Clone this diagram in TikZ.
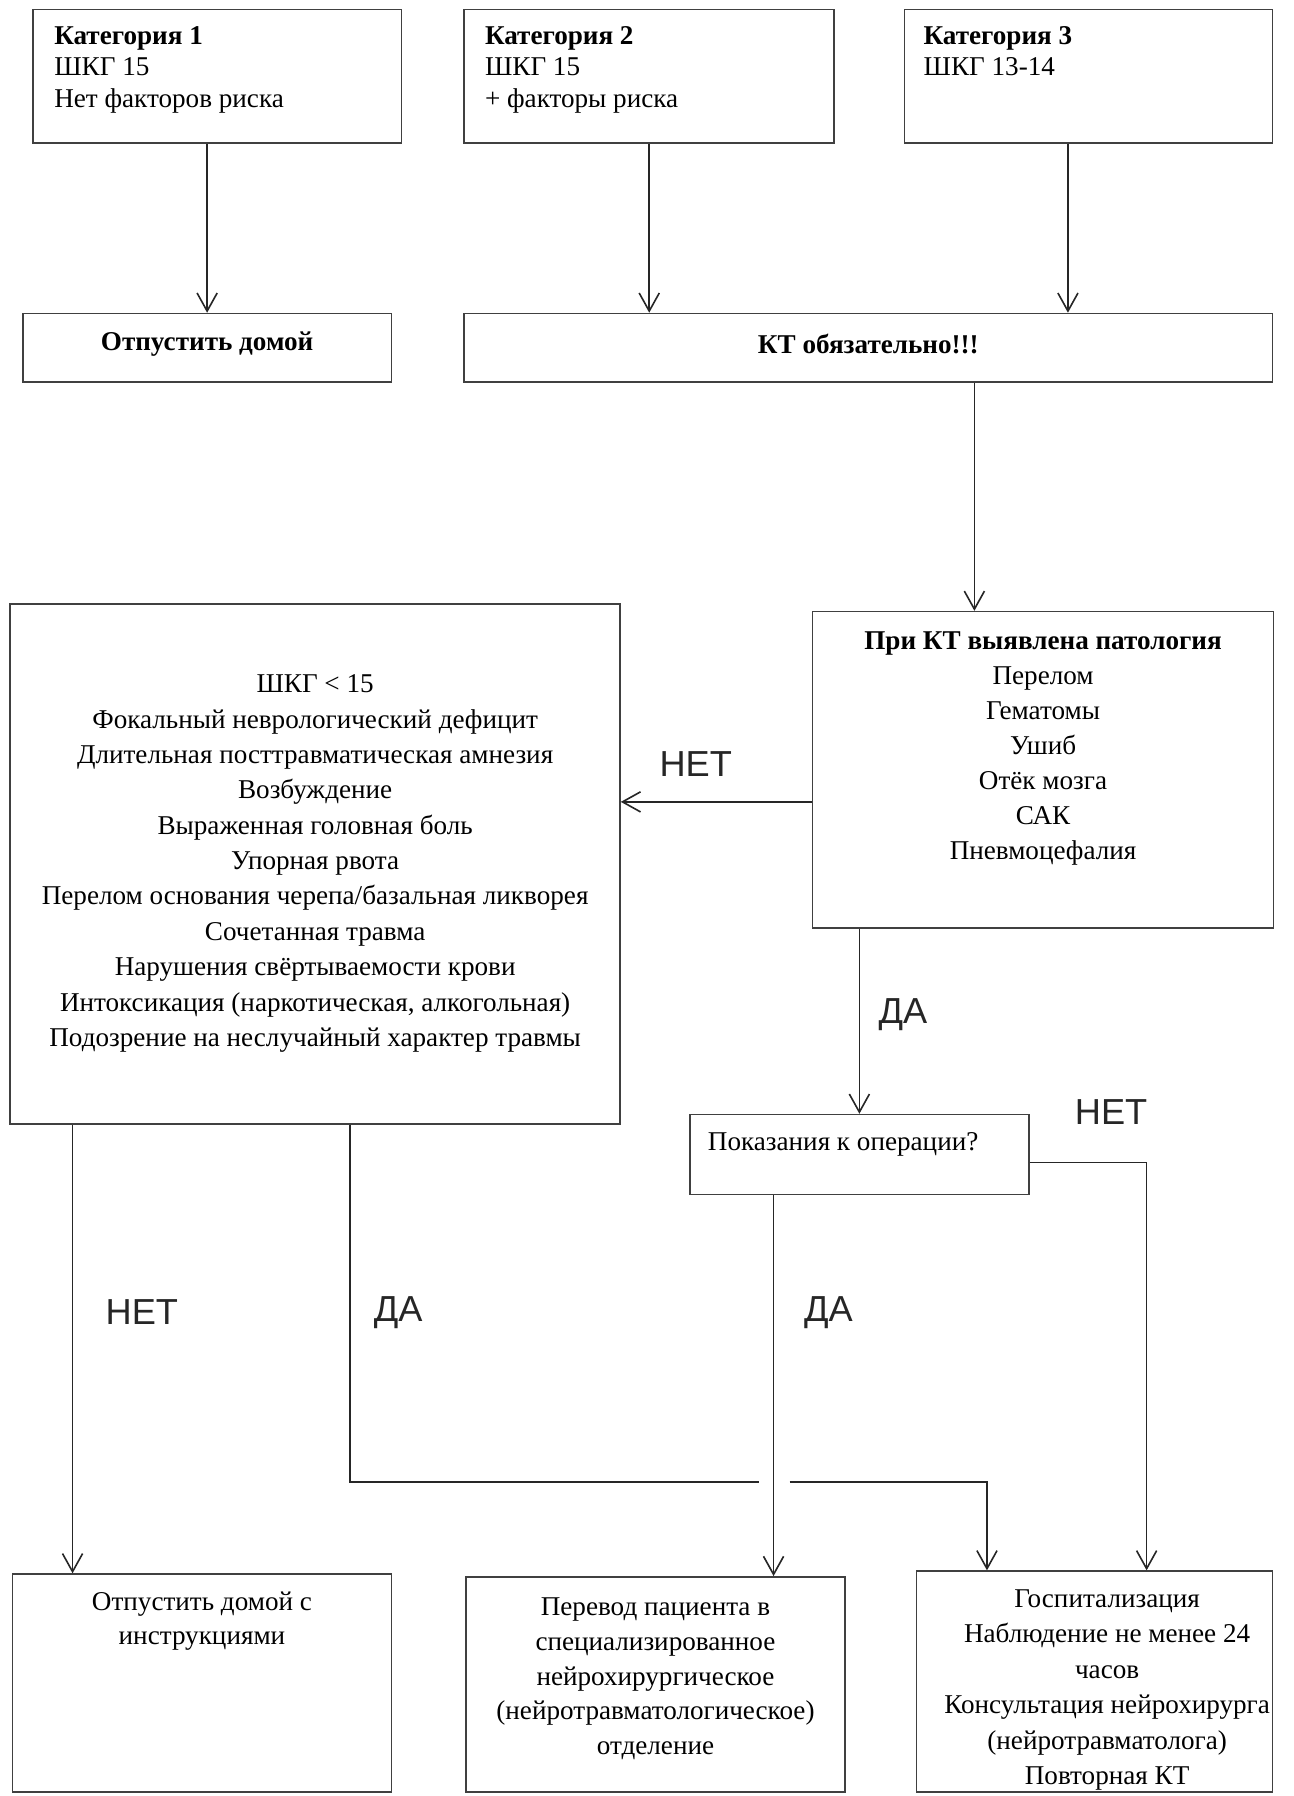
\documentclass[tikz,border=0pt]{standalone}
\usepackage{fontspec}
\setmainfont{Liberation Serif}
\newfontfamily\answerfont{Liberation Sans}
\usetikzlibrary{arrows.meta,calc,fit,positioning}
\tikzset{
  >={Straight Barb[length=9pt,width=10pt]},
  box/.style    = { draw=black!75, line width=0.8pt, inner sep=0pt },
  line/.style   = { draw=black!85, line width=0.8pt },
  txt/.style    = { inner sep=0pt, align=center, font=\fontsize{13.5}{17.6}\selectfont },
  cattxt/.style = { inner sep=0pt, align=left, anchor=north west, font=\fontsize{13.5}{15.7}\selectfont },
  answer/.style = { inner sep=0pt, text=black!85, font=\answerfont\fontsize{18}{20}\selectfont }
}
\begin{document}
\begin{tikzpicture}[x=0.02cm,y=-0.02cm]
  \useasboundingbox (0,0) rectangle (1130,1569.5);

  % Draw all boxes
  \node[box, fit={(28.8,8.2) (351,125)}]     (cat1)  {};
  \node[box, fit={(405.7,8.2) (729,125)}]    (cat2)  {};
  \node[box, fit={(790.5,8.2) (1112,125)}]   (cat3)  {};
  \node[box, fit={(20,274) (342,333.6)}]     (home)  {};
  \node[box, fit={(405.7,274) (1112,333.6)}] (kt)    {};
  \node[box, fit={(9,528) (541.8,982)}]      (risk)  {};
  \node[box, fit={(710,534.5) (1113,811)}]   (patho) {};
  \node[box, fit={(603,974) (899,1044)}]     (oper)  {};
  \node[box, fit={(11,1375.6) (342,1566)}]   (homeI) {};
  \node[box, fit={(407,1378) (738.6,1566)}]  (transf){};
  \node[box, fit={(801,1373) (1112,1566)}]   (hosp)  {};

  % Box texts
  \node[cattxt] (cat1t) at ($(cat1.north west)+(19,15)$) {\textbf{Категория 1}\\ШКГ 15\\Нет факторов риска};
  \node[cattxt] (cat2t) at ($(cat2.north west)+(18.5,15)$) {\textbf{Категория 2}\\ШКГ 15\\+ факторы риска};
  \node[cattxt] (cat3t) at ($(cat3.north west)+(17,15)$) {\textbf{Категория 3}\\ШКГ 13-14};
  \node[txt] (homet) at ($(home.center)+(0,-3)$) {\textbf{Отпустить домой}};
  \node[txt] (ktt) at ($(kt.center)+(0,-3)$) {\textbf{КТ обязательно!!!}};
  \node[txt, anchor=north] (riskt) at ($(risk.north)+(0,62)$) {ШКГ < 15\\Фокальный неврологический дефицит\\Длительная посттравматическая амнезия\\Возбуждение\\Выраженная головная боль\\Упорная рвота\\Перелом основания черепа/базальная ликворея\\Сочетанная травма\\Нарушения свёртываемости крови\\Интоксикация (наркотическая, алкогольная)\\Подозрение на неслучайный характер травмы};
  \node[txt, anchor=north, font=\fontsize{13.5}{17.4}\selectfont] (pathot) at ($(patho.north)+(0,18)$) {\textbf{При КТ выявлена патология}\\Перелом\\Гематомы\\Ушиб\\Отёк мозга\\САК\\Пневмоцефалия};
  \node[cattxt] (opert) at ($(oper.north west)+(16,16)$) {Показания к операции?};
  \node[txt, anchor=north, font=\fontsize{13.5}{16.9}\selectfont] (homeIt) at ($(homeI.north)+(0,16)$) {Отпустить домой с\\инструкциями};
  \node[txt, anchor=north, font=\fontsize{13.5}{17.2}\selectfont] (transft) at ($(transf.north)+(0,19)$) {Перевод пациента в\\специализированное\\нейрохирургическое\\(нейротравматологическое)\\отделение};
  \node[txt, anchor=north] (hospt) at ($(hosp.north)+(11,16.6)$) {Госпитализация\\Наблюдение не менее 24\\часов\\Консультация нейрохирурга\\(нейротравматолога)\\Повторная КТ};

  % Draw connectors
  \draw[line,->] (home.north |- cat1.south) -- (home.north);
  \draw[line,->] (cat2.south) -- (cat2.south |- kt.north);
  \draw[line,->] ($(cat3.south)+(-18,0)$) coordinate (c3) -- (c3 |- kt.north);
  \draw[line,->] ($(patho.north)+(-60,0)$) coordinate (p1) (p1 |- kt.south) -- (p1);
  \draw[line,->] ($(patho.west)+(0,28)$) coordinate (n1) -- (n1 -| risk.east);
  \draw[line,->] (oper.north |- patho.south) -- (oper.north);
  \draw[line,->] ($(oper.east)+(0,7)$) -| ($(hosp.north)+(45.5,0)$);
  \draw[line,->] ($(oper.south)+(-75,0)$) coordinate (q1) -- (q1 |- transf.north);
  \draw[line,->] ($(risk.south)+(-212,0)$) coordinate (l1) -- (l1 |- homeI.north);
  \coordinate (gapA) at (663,1295);
  \coordinate (gapB) at (690,1295);
  \draw[line] ($(risk.south)+(30.6,0)$) |- (gapA);
  \draw[line,->] (gapB) -| ($(hosp.north)+(-94,0)$);

  % Draw answers
  \node[answer] (no1)  at (608,668)   {НЕТ};
  \node[answer] (yes1) at (789,887)   {ДА};
  \node[answer] (no2)  at (971,972)   {НЕТ};
  \node[answer] (no3)  at (124,1147)  {НЕТ};
  \node[answer] (yes2) at (348,1147)  {ДА};
  \node[answer] (yes3) at (724,1147)  {ДА};
\end{tikzpicture}
\end{document}
